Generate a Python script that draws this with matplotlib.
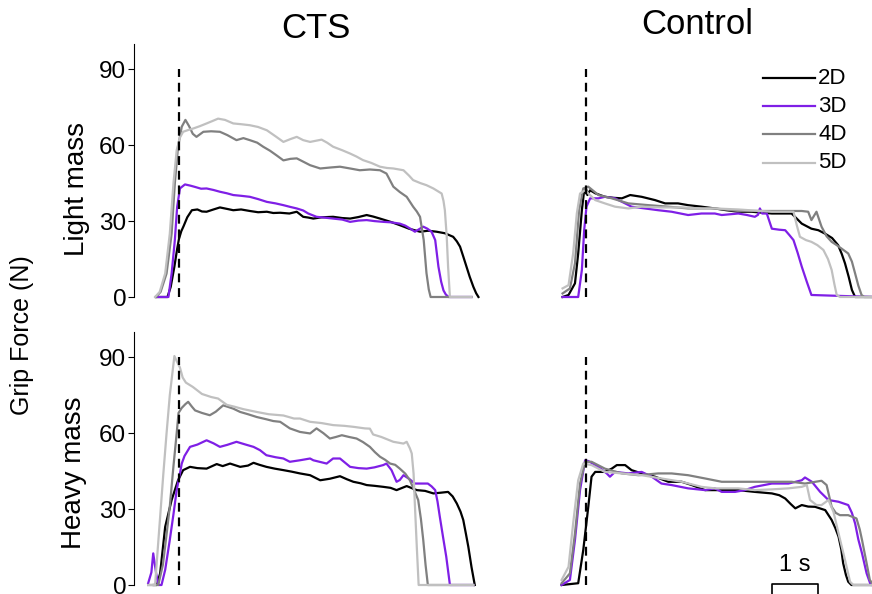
""" Grip force traces: CTS vs Control, light and heavy mass, digits 2D-5D. """

import numpy as np
import matplotlib
matplotlib.use("Agg")
import matplotlib.pyplot as plt
from matplotlib.lines import Line2D


""" DATA (time in s from onset, force in N) """

fingers = ["2D", "3D", "4D", "5D"]
colours = ["#000000", "#7f1fe6", "#808080", "#c0c0c0"]

# CTS, light mass
cts_light_2d_t = [-0.5, -0.25, -0.18, -0.1, -0.04, 0.0, 0.05, 0.1, 0.18, 0.28, 0.4, 0.5, 0.6, 0.75, 0.89, 1.05, 1.18, 1.35, 1.54, 1.72, 1.91, 2.05, 2.2, 2.4, 2.56, 2.7, 2.81, 2.92, 3.1, 3.35, 3.55, 3.72, 3.9, 4.08, 4.22, 4.37, 4.6, 4.8, 5.0, 5.24, 5.42, 5.6, 5.78, 5.96, 6.04, 6.11, 6.18, 6.25, 6.32, 6.4, 6.46, 6.51]
cts_light_2d_f = [0, 0, 4, 12, 19, 23, 26, 28, 31.5, 34.3, 34.6, 33.8, 33.7, 34.6, 35.4, 34.8, 34.3, 34.6, 34, 33.5, 33.7, 33.2, 33.3, 33, 33.7, 31.7, 31.4, 31, 31.5, 31.7, 31.2, 31, 31.6, 32.4, 31.8, 31, 29.7, 28.4, 27, 25.8, 26.2, 25.8, 25.2, 23.8, 22, 19.9, 16, 12, 8, 4, 1.5, 0]
cts_light_3d_t = [-0.5, -0.23, -0.16, -0.09, -0.04, 0.02, 0.13, 0.25, 0.35, 0.48, 0.6, 0.75, 0.89, 1.04, 1.18, 1.35, 1.54, 1.72, 1.91, 2.1, 2.27, 2.42, 2.56, 2.7, 2.81, 2.99, 3.2, 3.35, 3.55, 3.72, 3.9, 4.08, 4.25, 4.44, 4.62, 4.8, 4.92, 5.02, 5.13, 5.22, 5.31, 5.4, 5.49, 5.57, 5.64, 5.7, 5.75, 5.8, 5.86, 6.36]
cts_light_3d_f = [0, 0, 9.3, 22.5, 35.6, 42.9, 44.5, 44, 43.5, 42.8, 42.9, 42.3, 41.6, 41, 40.3, 40, 39.6, 38.7, 37.6, 37, 36.3, 35.6, 35, 34.2, 33, 31.7, 31.3, 31, 30.6, 29.7, 30.2, 30.4, 30, 29.7, 29.5, 29, 28.2, 27.1, 25.8, 26.8, 27.8, 27, 25.8, 22.5, 12, 6, 2.6, 1, 0, 0]
cts_light_4d_t = [-0.5, -0.4, -0.27, -0.16, -0.09, -0.02, 0.06, 0.14, 0.22, 0.3, 0.38, 0.53, 0.7, 0.89, 1.05, 1.25, 1.4, 1.54, 1.7, 1.83, 1.98, 2.12, 2.27, 2.42, 2.56, 2.7, 2.85, 3.07, 3.3, 3.5, 3.72, 3.93, 4.15, 4.37, 4.51, 4.66, 4.8, 4.95, 5.09, 5.17, 5.24, 5.32, 5.38, 5.43, 5.47, 6.36]
cts_light_4d_f = [0, 2, 9.3, 25, 45, 59.4, 67.3, 70, 67.5, 64.5, 63.3, 65.3, 65.5, 65.3, 64, 62, 62.8, 62, 61, 59.4, 57.8, 56, 54, 54.6, 54.8, 53.5, 52.1, 50.8, 51.2, 51.5, 50.8, 50.1, 50.4, 50.1, 48.8, 43.6, 41.5, 39.6, 35.7, 33.8, 31.7, 22.5, 9.5, 3, 0, 0]
cts_light_5d_t = [-0.52, -0.42, -0.3, -0.2, -0.12, -0.05, 0.02, 0.09, 0.2, 0.31, 0.45, 0.6, 0.72, 0.85, 1.0, 1.18, 1.35, 1.54, 1.72, 1.91, 2.1, 2.27, 2.42, 2.56, 2.7, 2.85, 3.1, 3.22, 3.35, 3.55, 3.72, 3.86, 4.0, 4.18, 4.37, 4.52, 4.66, 4.88, 5.0, 5.09, 5.25, 5.38, 5.53, 5.71, 5.75, 5.78, 5.82, 5.85, 5.89, 6.36]
cts_light_5d_f = [0, 2, 9.3, 25, 45, 58, 63, 65.3, 66, 66.6, 67.5, 68.6, 69.5, 70.5, 70, 68.6, 68.3, 67.9, 67.2, 65.9, 63.5, 61.3, 62.4, 63.3, 62, 61.3, 62.2, 61, 59.4, 58, 56.7, 55.5, 54.1, 53, 51.5, 51, 50.8, 50.1, 48, 46.2, 45, 44.2, 42.9, 40.9, 38, 34.3, 24, 12, 0, 0]

# Control, light mass
ctl_light_2d_t = [-0.51, -0.38, -0.24, -0.17, -0.09, -0.04, 0.0, 0.03, 0.09, 0.2, 0.41, 0.6, 0.78, 0.96, 1.21, 1.5, 1.72, 2.0, 2.22, 2.51, 2.8, 3.05, 3.31, 3.6, 4.04, 4.47, 4.58, 4.69, 4.9, 5.05, 5.2, 5.35, 5.48, 5.56, 5.63, 5.71, 5.78, 5.85, 6.25]
ctl_light_2d_f = [0, 0.8, 5.4, 17.2, 34.3, 42.2, 42.9, 40.3, 42.2, 41, 39.6, 39.2, 39, 40.3, 39.6, 38.3, 37, 37, 36.3, 35.7, 35, 34.3, 33.7, 33.7, 33, 33, 31, 29, 27, 26.4, 25, 23.3, 20.5, 17, 13.3, 8, 2.8, 0, 0]
ctl_light_3d_t = [-0.51, -0.17, -0.09, -0.04, 0.01, 0.09, 0.27, 0.41, 0.63, 0.85, 0.99, 1.28, 1.57, 1.86, 2.22, 2.51, 2.8, 2.95, 3.31, 3.5, 3.67, 3.74, 3.78, 3.83, 3.93, 4.04, 4.2, 4.33, 4.42, 4.51, 4.6, 4.69, 4.8, 4.9, 6.25]
ctl_light_3d_f = [0, 0, 10.7, 26.4, 35.7, 39, 39, 39.6, 39, 37, 35.7, 35, 34.3, 33.7, 32.4, 33, 33, 32.4, 33, 32.4, 31.7, 32.5, 35, 33, 33, 27, 26.6, 26.4, 24.5, 22.5, 17.5, 12, 6, 0.8, 0]
ctl_light_4d_t = [-0.51, -0.35, -0.24, -0.15, -0.06, 0.05, 0.27, 0.56, 0.92, 1.36, 1.79, 2.22, 2.8, 3.31, 4.04, 4.69, 4.83, 4.9, 5.01, 5.12, 5.23, 5.34, 5.45, 5.55, 5.7, 5.78, 5.85, 5.92, 5.99, 6.05, 6.25]
ctl_light_4d_f = [1.4, 3.4, 13.3, 34.3, 42.9, 43.6, 40.3, 39, 37, 36.3, 35.7, 35, 35, 34, 34, 34, 33.7, 30.4, 33.7, 27.8, 24, 21.8, 20.5, 19.2, 17.2, 14, 9.3, 4.5, 0.8, 0, 0]
ctl_light_5d_t = [-0.51, -0.38, -0.28, -0.2, -0.13, -0.02, 0.2, 0.41, 0.63, 0.92, 1.21, 1.64, 2.08, 2.51, 2.8, 3.31, 4.04, 4.51, 4.58, 4.65, 4.78, 4.9, 5.03, 5.16, 5.26, 5.34, 5.4, 5.45, 5.52, 6.25]
ctl_light_5d_f = [3.4, 4.7, 17.2, 33, 40.9, 42.2, 38.3, 37, 35.7, 35, 35.7, 35.4, 35.4, 35, 35, 34.6, 33.7, 33.7, 28.5, 23.8, 22.5, 21.8, 20.5, 18.6, 15, 10.7, 5, 0.8, 0, 0]

# CTS, heavy mass
cts_heavy_2d_t = [-0.55, -0.48, -0.41, -0.3, -0.16, -0.02, 0.09, 0.24, 0.4, 0.6, 0.82, 0.95, 1.11, 1.33, 1.5, 1.62, 1.75, 1.9, 2.08, 2.27, 2.45, 2.63, 2.85, 3.07, 3.28, 3.5, 3.65, 3.79, 3.95, 4.08, 4.25, 4.44, 4.6, 4.73, 4.95, 5.17, 5.35, 5.53, 5.7, 5.85, 5.95, 6.04, 6.12, 6.18, 6.24, 6.29, 6.36, 6.43]
cts_heavy_2d_f = [0, 0, 4.6, 23, 33.6, 41.4, 45.4, 46.7, 46.2, 46, 47.8, 47, 48, 46.7, 47.2, 48.3, 47.5, 46.7, 46, 45.4, 44.8, 44.1, 43.4, 41.4, 42, 43, 41.8, 40.8, 40.2, 39.5, 39.2, 38.8, 38.4, 37.5, 39.1, 37.5, 37.2, 36.2, 36.5, 36.8, 35, 32.2, 29, 25.7, 20, 15.1, 7, 0]
cts_heavy_3d_t = [-0.67, -0.6, -0.56, -0.5, -0.45, -0.38, -0.3, -0.2, -0.12, -0.05, 0.02, 0.06, 0.12, 0.24, 0.4, 0.6, 0.75, 0.89, 1.05, 1.25, 1.45, 1.62, 1.76, 1.9, 2.1, 2.27, 2.41, 2.63, 2.85, 2.92, 3.1, 3.21, 3.35, 3.5, 3.72, 3.9, 4.08, 4.25, 4.44, 4.51, 4.62, 4.73, 4.8, 4.88, 5.0, 5.13, 5.27, 5.41, 5.49, 5.57, 5.62, 5.67, 5.74, 5.81, 5.89, 6.4]
cts_heavy_3d_f = [0.7, 5, 12.5, 5, 0, 0, 6, 17.8, 28, 37.5, 44, 48, 51, 54.6, 55.5, 57.2, 56, 54.6, 55.4, 56.6, 55.5, 54.6, 53.3, 51.3, 50.5, 50, 48.7, 49.3, 50, 49.3, 48.5, 48, 50, 50, 46.7, 46.2, 46, 46.5, 47.4, 48, 45.4, 40.8, 41.5, 43.4, 42, 40.1, 40.1, 40.1, 39, 37.5, 33, 27, 19, 11.2, 0, 0]
cts_heavy_4d_t = [-0.67, -0.45, -0.35, -0.27, -0.2, -0.12, -0.05, -0.01, 0.06, 0.14, 0.2, 0.28, 0.35, 0.5, 0.67, 0.8, 0.96, 1.05, 1.18, 1.33, 1.5, 1.69, 1.9, 2.05, 2.2, 2.41, 2.63, 2.85, 2.99, 3.14, 3.28, 3.41, 3.54, 3.7, 3.86, 4.0, 4.15, 4.26, 4.37, 4.48, 4.59, 4.7, 4.8, 4.92, 5.02, 5.1, 5.2, 5.26, 5.31, 5.36, 5.41, 6.4]
cts_heavy_4d_f = [0, 0, 8, 20, 31, 47, 60, 68, 70, 71.5, 72.4, 70.5, 69, 68, 67.1, 68.5, 71, 70.5, 69.7, 68.4, 67.5, 66.4, 65.5, 64.8, 64.5, 61.9, 60.5, 59.9, 61.9, 60, 57.9, 58.5, 59.2, 58.5, 57.9, 56.5, 54.6, 52.5, 50.7, 49.5, 48, 47.5, 46, 44, 41.4, 38, 33.6, 26, 17.8, 8, 0, 0]
cts_heavy_5d_t = [-0.67, -0.52, -0.43, -0.34, -0.27, -0.2, -0.1, -0.05, 0.02, 0.08, 0.15, 0.3, 0.5, 0.7, 0.85, 1.04, 1.2, 1.4, 1.69, 1.95, 2.27, 2.5, 2.63, 2.85, 3.1, 3.35, 3.6, 3.8, 4.04, 4.15, 4.22, 4.4, 4.66, 4.88, 4.95, 5.02, 5.06, 5.1, 5.13, 5.17, 5.21, 6.4]
cts_heavy_5d_f = [0, 0, 22, 44, 60, 75, 90.5, 88.5, 86, 82, 80, 78.3, 75.5, 74.3, 73.7, 71.2, 70.5, 69.5, 68.4, 67.5, 67, 65.8, 65.8, 64.5, 64, 63.2, 62.9, 62.5, 61.9, 61.8, 59.5, 58.5, 56.6, 55.9, 56.6, 54, 52, 44, 31, 15, 0, 0]

# Control, heavy mass
ctl_heavy_2d_t = [-0.53, -0.17, -0.06, 0.05, 0.12, 0.2, 0.41, 0.56, 0.67, 0.85, 0.99, 1.21, 1.5, 1.79, 2.08, 2.3, 2.59, 2.95, 3.31, 3.67, 4.04, 4.2, 4.33, 4.45, 4.55, 4.69, 4.83, 4.98, 5.2, 5.34, 5.42, 5.49, 5.55, 5.59, 5.65, 5.7, 5.77, 6.25]
ctl_heavy_2d_f = [0, 0.7, 13.8, 31, 42.8, 44.7, 44.7, 46, 47.4, 47.4, 45.4, 44.1, 42.8, 40.8, 40.8, 39.5, 37.5, 37.5, 37.5, 36.8, 36.2, 35.5, 34.2, 32, 30.3, 31.6, 31, 30.9, 29.6, 25.7, 22.5, 19.1, 14, 8.6, 4, 1.3, 0, 0]
ctl_heavy_3d_t = [-0.53, -0.35, -0.24, -0.13, -0.02, 0.05, 0.27, 0.45, 0.52, 0.63, 0.92, 1.21, 1.43, 1.64, 1.86, 2.22, 2.59, 2.8, 2.95, 3.24, 3.45, 3.67, 4.04, 4.4, 4.69, 4.76, 4.91, 5.09, 5.27, 5.49, 5.7, 5.78, 5.85, 5.92, 6.0, 6.1, 6.19, 6.25]
ctl_heavy_3d_f = [0, 2, 17.8, 37.5, 49.3, 49, 46.7, 44.1, 42.8, 44.7, 44.1, 44.7, 42.8, 40.1, 39.5, 38.2, 37.5, 38.2, 36.8, 36.8, 37.5, 38.8, 40.1, 40.1, 41.4, 42.5, 40.8, 36.8, 33.6, 32.9, 31.6, 28.5, 24.3, 18, 12.5, 4.6, 0, 0]
ctl_heavy_4d_t = [-0.53, -0.35, -0.24, -0.13, -0.02, 0.12, 0.41, 0.78, 1.14, 1.57, 1.86, 2.22, 2.59, 2.95, 3.31, 3.67, 4.04, 4.47, 4.76, 5.12, 5.23, 5.34, 5.43, 5.52, 5.7, 5.88, 5.95, 6.0, 6.1, 6.17, 6.25]
ctl_heavy_4d_f = [0.7, 4.6, 20.4, 40.1, 48.7, 48.7, 46, 44.1, 43.4, 44.1, 44.1, 43.4, 42.1, 40.8, 40.8, 40.8, 40.8, 40.8, 40.1, 41.2, 39.5, 30.9, 28.5, 27.6, 27.6, 26.3, 22, 17.8, 8.6, 2, 0]
ctl_heavy_5d_t = [-0.53, -0.38, -0.28, -0.17, -0.06, 0.12, 0.41, 0.78, 1.21, 1.64, 2.08, 2.51, 2.8, 3.31, 3.67, 4.04, 4.4, 4.69, 4.8, 4.87, 5.01, 5.12, 5.27, 5.38, 5.49, 5.63, 5.74, 5.81, 6.25]
ctl_heavy_5d_f = [2, 7.2, 24.3, 41.4, 48, 47.4, 44.7, 44.1, 43.4, 42.1, 40.8, 38.8, 38.2, 38.2, 37.5, 37.8, 38.2, 38.8, 39.5, 33.6, 31.6, 31.6, 33.6, 28.9, 20.4, 9.9, 1.3, 0, 0]

yticks = [0, 30, 60, 90]
onset_top = 90
scale_bar_s = 1.0


""" SETUP """

plt.rcParams['font.family'] = ['Liberation Sans', 'DejaVu Sans']

W, H = 872, 594
fig = plt.figure(figsize=(W / 100, H / 100), dpi=100)


def px(x, y):
    return x / W, 1 - y / H


def make_axes(x0, x1, y_zero, xlim):
    ax = fig.add_axes([x0 / W, (H - y_zero) / H, (x1 - x0) / W, 253 / H])
    ax.set_xlim(*xlim)
    ax.set_ylim(0, 100)
    return ax


ax_cl = make_axes(134, 483, 297, (-0.978, 6.609))
ax_tl = make_axes(558, 872, 297, (-0.609, 6.217))
ax_ch = make_axes(134, 483, 585, (-0.978, 6.609))
ax_th = make_axes(558, 872, 585, (-0.609, 6.217))

panels = [
    (ax_cl, [(cts_light_2d_t, cts_light_2d_f), (cts_light_3d_t, cts_light_3d_f),
             (cts_light_4d_t, cts_light_4d_f), (cts_light_5d_t, cts_light_5d_f)]),
    (ax_tl, [(ctl_light_2d_t, ctl_light_2d_f), (ctl_light_3d_t, ctl_light_3d_f),
             (ctl_light_4d_t, ctl_light_4d_f), (ctl_light_5d_t, ctl_light_5d_f)]),
    (ax_ch, [(cts_heavy_2d_t, cts_heavy_2d_f), (cts_heavy_3d_t, cts_heavy_3d_f),
             (cts_heavy_4d_t, cts_heavy_4d_f), (cts_heavy_5d_t, cts_heavy_5d_f)]),
    (ax_th, [(ctl_heavy_2d_t, ctl_heavy_2d_f), (ctl_heavy_3d_t, ctl_heavy_3d_f),
             (ctl_heavy_4d_t, ctl_heavy_4d_f), (ctl_heavy_5d_t, ctl_heavy_5d_f)]),
]


""" DRAW """

for ax, traces in panels:
    for (t, f), c in zip(traces, colours):
        ax.plot(t, f, color=c, lw=1.6, clip_on=False, solid_joinstyle='round')
    ax.plot([0, 0], [0, onset_top], color='black', lw=1.6,
            linestyle=(0, (4, 2.6)), clip_on=False)

for ax in (ax_tl, ax_th):
    for s in ax.spines.values():
        s.set_visible(False)
    ax.set_xticks([])
    ax.set_yticks([])

for ax in (ax_cl, ax_ch):
    for s in ('top', 'right', 'bottom'):
        ax.spines[s].set_visible(False)
    ax.spines['left'].set_linewidth(0.8)
    ax.set_xticks([])
    ax.set_yticks(yticks)
    ax.tick_params(axis='y', direction='out', length=4.5, width=0.8,
                   labelsize=17.5, pad=1)

# legend drawn by hand
for i, (lab, c) in enumerate(zip(fingers, colours)):
    y = 78 + 28.2 * i
    fig.add_artist(Line2D([763 / W, 815 / W], [1 - y / H, 1 - y / H],
                          color=c, lw=1.6))
    fig.text(*px(818, y), lab, fontsize=16, va='center', ha='left')

# scale bar
ax_th.plot([4.04, 4.04, 4.04 + scale_bar_s, 4.04 + scale_bar_s],
           [-3.8, 0.4, 0.4, -3.8], color='black', lw=1.2, clip_on=False)
ax_th.text(4.04 + scale_bar_s / 2, 3.5, "1 s", ha='center', va='bottom',
           fontsize=17)

# titles and labels
fig.text(*px(316, 28), "CTS", fontsize=25, ha='center', va='center')
fig.text(*px(697, 24), "Control", fontsize=25, ha='center', va='center')
fig.text(*px(77, 189), "Light mass", fontsize=20, rotation=90,
         ha='center', va='center')
fig.text(*px(74, 473), "Heavy mass", fontsize=20, rotation=90,
         ha='center', va='center')
fig.text(*px(22, 335), "Grip Force (N)", fontsize=18, rotation=90,
         ha='center', va='center')

fig.savefig("out.png", dpi=100)
